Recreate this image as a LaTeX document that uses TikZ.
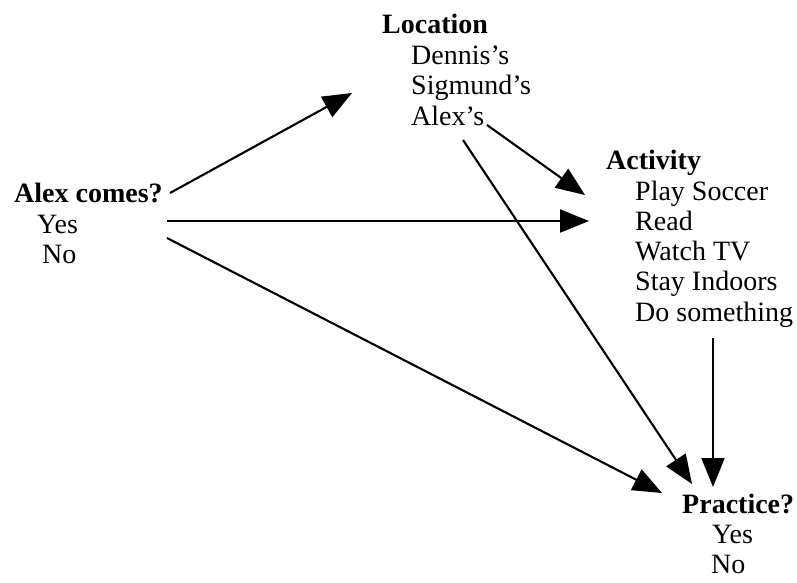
\documentclass[tikz,border=0pt]{standalone}
\usepackage{fontspec}
\setmainfont{Liberation Serif}
\usetikzlibrary{arrows.meta}
\begin{document}
\begin{tikzpicture}[x=1pt,y=-1pt,
  txt/.style={inner sep=0pt,anchor=base west,font=\fontsize{28}{30}\selectfont},
  hdr/.style={txt,font=\fontsize{28}{30}\selectfont\bfseries},
  conn/.style={line width=2.1pt,-{Triangle[length=29pt,width=23pt]}}]
\useasboundingbox (0,0) rectangle (797,582);
% Alex comes?
\node[hdr] (ac) at (14,202) {Alex comes?};
\node[txt] (acy) at (37,233) {Yes};
\node[txt] (acn) at (42,263) {No};
% Location
\node[hdr] (loc) at (382,33) {Location};
\node[txt] (locd) at (411,64) {Dennis's};
\node[txt] (locs) at (411,94) {Sigmund's};
\node[txt] (loca) at (411,125) {Alex's};
% Activity
\node[hdr] (act) at (606,169) {Activity};
\node[txt] (act1) at (635,200) {Play Soccer};
\node[txt] (act2) at (635,230) {Read};
\node[txt] (act3) at (635,260) {Watch TV};
\node[txt] (act4) at (635,290) {Stay Indoors};
\node[txt] (act5) at (635,321) {Do something};
% Practice?
\node[hdr] (pr) at (682,513) {Practice?};
\node[txt] (pry) at (712,543) {Yes};
\node[txt] (prn) at (711,573) {No};
% connector end points
\coordinate (s1) at (170,193); \coordinate (t1) at (352,93);
\coordinate (s2) at (167,221); \coordinate (t2) at (589,221);
\coordinate (s3) at (167,238); \coordinate (t3) at (662,493);
\coordinate (s4) at (487,125); \coordinate (t4) at (585,195);
\coordinate (s5) at (463,140); \coordinate (t5) at (692,484);
\coordinate (s6) at (713,338); \coordinate (t6) at (713,487);
\draw[conn] (s1) -- (t1);
\draw[conn] (s2) -- (t2);
\draw[conn] (s3) -- (t3);
\draw[conn] (s4) -- (t4);
\draw[conn] (s5) -- (t5);
\draw[conn] (s6) -- (t6);
\end{tikzpicture}
\end{document}
